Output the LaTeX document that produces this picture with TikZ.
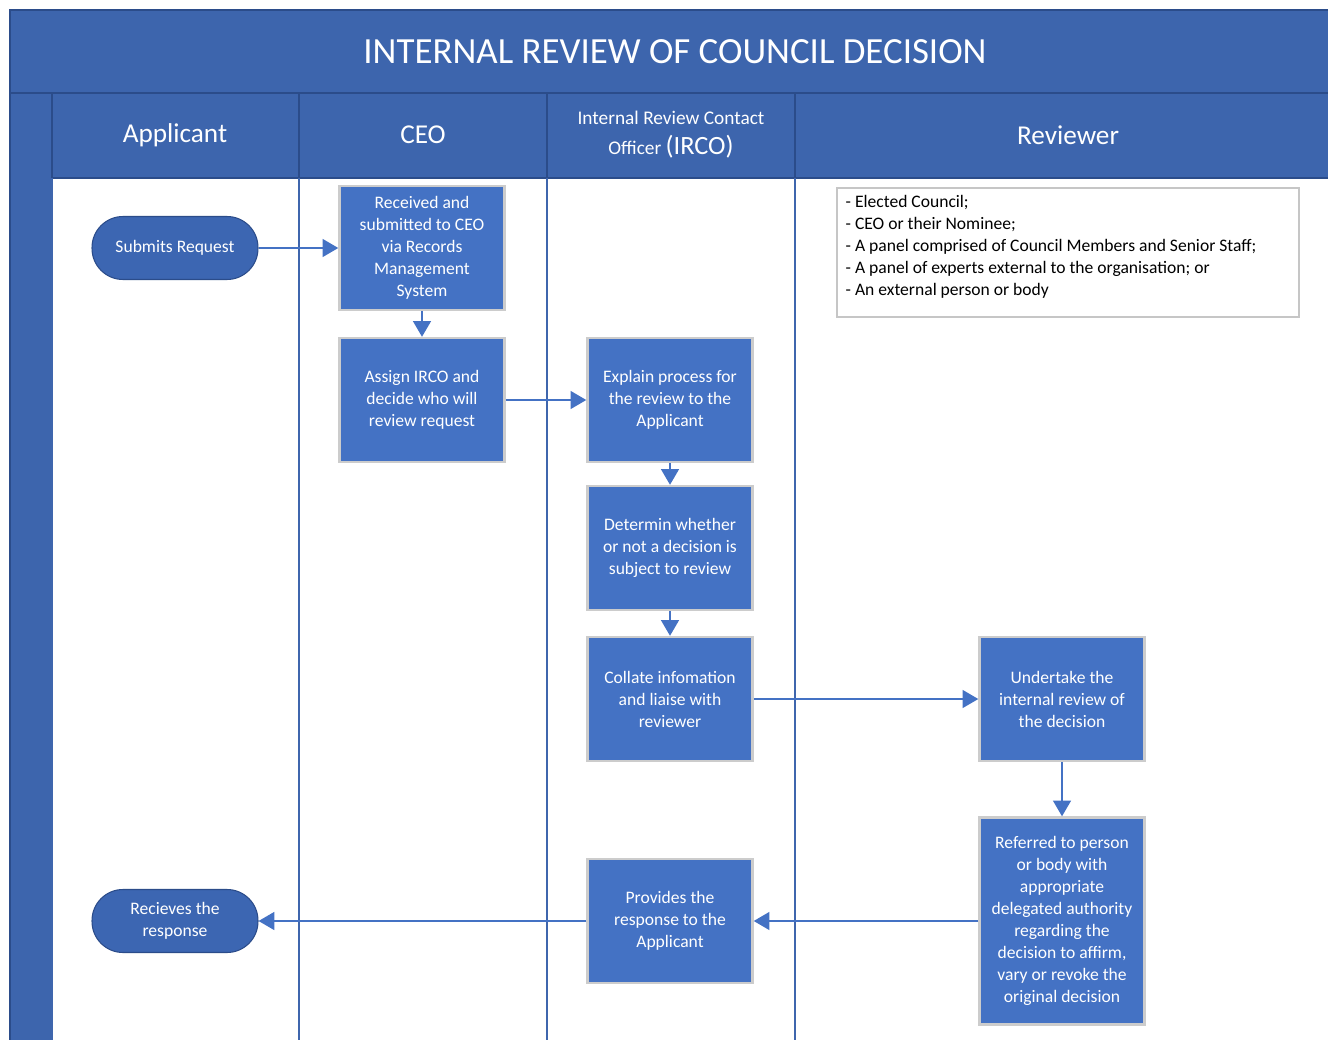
\documentclass[tikz,border=0pt]{standalone}
\usepackage{fontspec}
\setmainfont{Carlito}
\usetikzlibrary{arrows.meta}
\definecolor{hdr}{HTML}{3D65AD}
\definecolor{hdrline}{HTML}{2B4C8A}
\definecolor{boxblue}{HTML}{4472C4}
\definecolor{pillblue}{HTML}{3C66B2}
\definecolor{laneline}{HTML}{3F66AD}
\begin{document}
\begin{tikzpicture}[x=0.02cm,y=-0.02cm,
  stepbox/.style={rectangle, fill=boxblue, draw=gray!40, line width=1.3pt,
    text=white, align=center, minimum width=3.3cm, minimum height=2.48cm,
    inner sep=2pt, font=\fontsize{10}{12.5}\selectfont},
  pill/.style={rectangle, rounded corners=0.62cm, fill=pillblue, draw=hdrline,
    line width=0.6pt, text=white, align=center, minimum width=3.32cm,
    minimum height=1.26cm, inner sep=2pt, font=\fontsize{10}{12.5}\selectfont},
  flow/.style={draw=boxblue, line width=1.6pt,
    -{Triangle[length=9pt,width=10pt]}},
  lanehead/.style={text=white, font=\fontsize{15.5}{18}\selectfont},
]
\useasboundingbox (0,0) rectangle (1328,1040);

% title bar, header row and left band
\fill[hdr] (10,10) rectangle (1328,178);
\fill[hdr] (10,178) rectangle (52,1040);
\draw[hdrline, line width=0.8pt] (10,1040) -- (10,10) -- (1328,10);
\draw[hdrline, line width=0.8pt] (10,93) -- (1328,93);
\draw[hdrline, line width=0.8pt] (52,178) -- (1328,178);
\foreach \x in {52,299,547,795}
  \draw[hdrline, line width=0.8pt] (\x,93) -- (\x,178);
% lane separators in the body
\foreach \x in {52,299,547,795}
  \draw[laneline, line width=1.2pt] (\x,178) -- (\x,1040);

\node[text=white, font=\fontsize{21}{24}\selectfont] (title) at (675,52)
  {INTERNAL REVIEW OF COUNCIL DECISION};
\node[lanehead] (hA) at (175,135) {Applicant};
\node[lanehead] (hC) at (423,135) {CEO};
\node[text=white, align=center, font=\fontsize{11}{17}\selectfont] (hI) at (671,135)
  {Internal Review Contact\\Officer {\fontsize{15}{17}\selectfont(IRCO)}};
\node[lanehead] (hR) at (1068,135) {Reviewer};

% list of possible reviewers
\node[draw=gray!45, line width=1pt, fill=white, anchor=north west, inner sep=0pt]
  (who) at (836,187)
  {\parbox[t][2.58cm][t]{9.24cm}{\vspace{4.5pt}\leftskip=5pt
   \fontsize{10}{12.5}\selectfont
   - Elected Council;\\
   - CEO or their Nominee;\\
   - A panel comprised of Council Members and Senior Staff;\\
   - A panel of experts external to the organisation; or\\
   - An external person or body}};

% process steps
\node[pill] (sub) at (175,248) {Submits Request};
\node[stepbox] (rec) at (422,248) {Received and\\submitted to CEO\\via Records\\Management\\System};
\node[stepbox] (asg) at (422,400) {Assign IRCO and\\decide who will\\review request};
\node[stepbox] (exp) at (670,400) {Explain process for\\the review to the\\Applicant};
\node[stepbox] (det) at (670,548) {Determin whether\\or not a decision is\\subject to review};
\node[stepbox] (col) at (670,699) {Collate infomation\\and liaise with\\reviewer};
\node[stepbox] (und) at (1062,699) {Undertake the\\internal review of\\the decision};
\node[stepbox, minimum height=4.14cm] (ref) at (1062,921)
  {Referred to person\\or body with\\appropriate\\delegated authority\\regarding the\\decision to affirm,\\vary or revoke the\\original decision};
\node[stepbox] (pro) at (670,921) {Provides the\\response to the\\Applicant};
\node[pill] (rcv) at (175,921) {Recieves the\\response};

% connectors
\draw[flow] (sub) -- (rec);
\draw[flow] (rec) -- (asg);
\draw[flow] (asg) -- (exp);
\draw[flow] (exp) -- (det);
\draw[flow] (det) -- (col);
\draw[flow] (col) -- (und);
\draw[flow] (und) -- (ref);
\draw[flow] (ref) -- (pro);
\draw[flow] (pro) -- (rcv);
\end{tikzpicture}
\end{document}
